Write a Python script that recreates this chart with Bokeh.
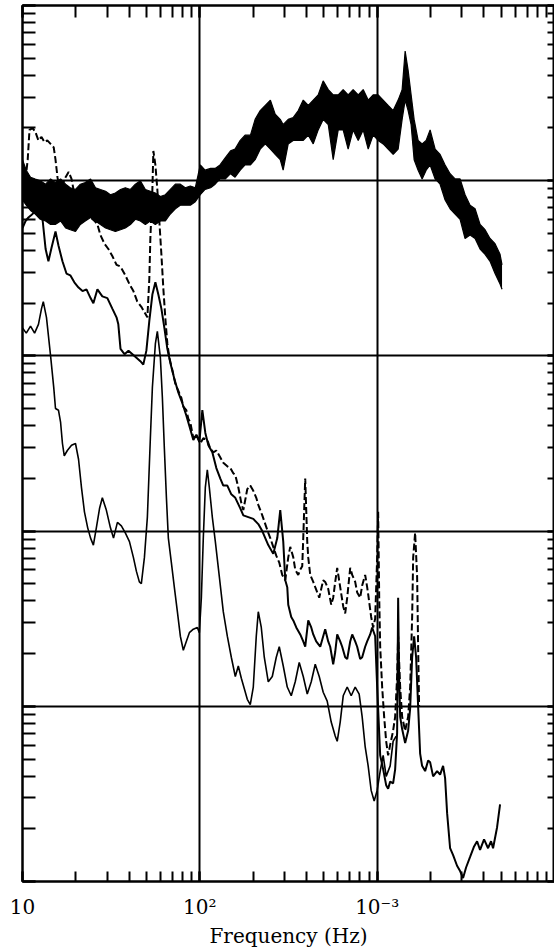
from bokeh.plotting import figure
from bokeh.models import LogAxis, LogTicker
from bokeh.embed import file_html
from bokeh.resources import INLINE

# Spectral levels in dB (0 dB = top of the plotted range) against frequency in Hz.

# Trace A: broadband record, drawn as its noise envelope (upper / lower excursions)
a_freq = [10, 10.5, 11.1, 11.8, 12.6, 13.5, 14.4, 15.3, 16.4, 17.5,
          18.6, 19.9, 21.2, 22.6, 24.2, 25.8, 27.5, 29.4, 31.3, 33.4,
          35.7, 38.0, 40.6, 43.3, 46.2, 49.3, 52.6, 56.1, 59.9, 63.9,
          68.2, 72.8, 77.6, 82.8, 88.4, 94.3, 100.6, 107, 115, 122,
          130, 139, 149, 158, 169, 180, 193, 205, 219, 234,
          250, 266, 284, 295, 315, 336, 359, 383, 409, 436,
          465, 496, 530, 565, 603, 643, 686, 732, 782, 834,
          890, 949, 1013, 1081, 1153, 1231, 1313, 1383, 1438, 1495,
          1554, 1616, 1702, 1793, 1889, 1989, 2123, 2264, 2416, 2578,
          2750, 2935, 3131, 3341, 3565, 3804, 4059, 4331, 4621, 4931, 5060]
a_upper_db = [-8.8, -9.4, -9.8, -9.9, -10.0, -10.2, -9.9, -10.1, -9.9, -10.2,
              -10.4, -10.5, -10.2, -10.1, -9.9, -10.4, -10.5, -10.6, -10.8, -10.7,
              -10.5, -10.4, -10.5, -10.2, -10.0, -10.5, -10.6, -10.7, -10.9, -10.8,
              -10.5, -10.2, -10.2, -10.4, -10.3, -10.4, -9.1, -9.4, -9.3, -9.3,
              -9.1, -8.7, -8.3, -8.2, -7.7, -7.4, -7.4, -6.5, -6.0, -5.7,
              -5.4, -6.2, -6.5, -6.8, -6.5, -6.4, -6.0, -5.4, -5.7, -5.4,
              -5.1, -4.3, -4.8, -5.1, -5.1, -4.8, -5.1, -4.8, -5.1, -4.8,
              -5.4, -5.1, -5.1, -5.4, -5.7, -6.0, -5.4, -4.8, -2.6, -3.7,
              -5.1, -6.5, -7.7, -7.9, -7.7, -7.1, -8.2, -8.5, -9.1, -9.6,
              -9.9, -9.9, -10.8, -11.4, -11.6, -12.5, -12.8, -13.3, -13.6, -14.2, -14.8]
a_lower_db = [-11.1, -11.4, -11.7, -11.9, -12.2, -12.3, -12.5, -12.5, -12.3, -12.7,
              -12.8, -12.9, -12.5, -12.3, -12.1, -12.3, -12.5, -12.7, -12.8, -12.9,
              -12.8, -12.7, -12.5, -12.2, -12.3, -12.5, -12.3, -12.5, -12.3, -12.3,
              -11.9, -11.6, -11.4, -11.4, -11.4, -11.2, -10.8, -10.5, -10.4, -10.2,
              -9.9, -9.9, -9.6, -9.8, -9.4, -9.1, -9.1, -8.8, -8.2, -7.9,
              -8.2, -8.5, -8.8, -9.4, -7.9, -7.7, -7.7, -7.7, -7.4, -7.9,
              -7.1, -6.5, -6.8, -8.8, -7.1, -7.1, -8.2, -7.1, -7.7, -7.1,
              -8.2, -7.4, -7.7, -7.9, -8.2, -8.5, -8.2, -6.5, -5.4, -6.0,
              -6.8, -8.8, -9.4, -9.9, -9.4, -9.1, -9.9, -10.2, -11.1, -11.6,
              -11.9, -12.2, -13.3, -13.1, -13.3, -13.9, -14.2, -14.6, -15.3, -15.9, -16.2]

# Trace B (dashed)
b_freq = [10.1, 10.7, 10.95, 11.4, 11.8, 12.3, 12.8, 13.3, 13.8, 14.4,
          15.0, 15.35, 15.75, 16.2, 16.8, 17.5, 18.2, 18.9, 19.9, 21.2,
          22.6, 24.2, 25.5, 26.45, 27.5, 29.0, 30.5, 32.1, 33.9, 35.7,
          38.0, 40.1, 42.2, 44.4, 46.8, 48.7, 50.6, 51.9, 52.6, 54.0,
          54.7, 56.15, 57.6, 59.1, 60.7, 62.3, 63.95, 65.6, 67.3, 70.0,
          72.8, 75.7, 78.7, 80.7, 83.9, 86.2, 88.4, 91.9, 95.6, 100.6,
          104.6, 110.2, 114.6, 119.1, 123.9, 130.5, 135.6, 142.9, 148.5, 154.4,
          158.5, 164.8, 171.4, 175.9, 185.2, 192.5, 200.2, 208.1, 213.6, 225.0,
          233.9, 243.2, 249.6, 259.5, 269.8, 280.5, 291.6, 303.2, 315.2, 323.5,
          336.5, 345.1, 358.8, 368.3, 378, 383, 392.9, 403.4, 408.6, 419.4,
          436.1, 447.5, 471.3, 496.3, 509.3, 529.6, 550.6, 565, 580, 595.2,
          618.8, 643.5, 660.1, 677.7, 704.6, 723.2, 751.7, 771.4, 802, 823.1,
          855.6, 878.1, 889.6, 924.9, 949.5, 974.3, 1000, 1013, 1027, 1040,
          1067, 1095, 1124, 1153, 1184, 1230, 1263, 1296, 1313, 1348,
          1383, 1438, 1495, 1535, 1575, 1596, 1637, 1680, 1702, 1724]
b_db = [-11.1, -8.8, -7.1, -7.0, -7.2, -7.7, -7.5, -7.8, -7.7, -7.9,
        -8.1, -8.8, -9.8, -10.6, -10.2, -9.8, -9.5, -9.9, -11.1, -11.4,
        -11.7, -12.1, -12.3, -12.5, -13.1, -13.6, -13.9, -14.3, -14.8, -14.9,
        -15.4, -15.9, -16.3, -16.9, -17.2, -17.5, -17.8, -15.6, -13.3, -10.5,
        -8.3, -9.1, -10.5, -12.3, -14.2, -16.2, -17.9, -19.3, -20.1, -20.8,
        -21.6, -22.0, -22.4, -22.9, -23.1, -23.6, -23.8, -24.7, -24.5, -25.0,
        -24.7, -24.8, -25.3, -25.5, -25.4, -25.8, -26.1, -26.3, -26.4, -26.7,
        -26.8, -27.5, -28.4, -28.8, -27.6, -27.4, -27.7, -28.1, -28.5, -29.1,
        -29.6, -30.1, -30.4, -30.9, -31.4, -31.8, -32.5, -32.8, -31.5, -30.9,
        -31.5, -32.2, -32.5, -32.2, -32.0, -30.4, -27.0, -30.6, -31.5, -32.5,
        -32.9, -33.2, -33.8, -32.8, -32.9, -33.3, -34.2, -33.8, -32.9, -32.1,
        -33.2, -34.3, -34.7, -33.8, -32.1, -32.5, -32.9, -33.5, -33.8, -33.1,
        -32.5, -33.2, -33.6, -34.9, -35.5, -35.0, -31.5, -28.9, -33.8, -36.6,
        -38.9, -40.6, -42.0, -42.8, -42.2, -41.4, -40.6, -38.3, -36.0, -38.9,
        -40.6, -41.4, -40.6, -38.9, -34.9, -31.5, -30.1, -32.6, -36.6, -40.0]

# Trace C (thin solid)
c_freq = [10.0, 10.4, 10.8, 11.4, 12.0, 12.5, 13.0, 13.5, 14.0, 14.6,
          15.35, 15.95, 16.8, 17.7, 18.6, 19.6, 20.7, 21.8, 22.95, 24.2,
          25.1, 26.45, 28.2, 30.1, 32.1, 33.9, 34.7, 35.7, 37.6, 39.6,
          41.7, 43.9, 46.2, 48.0, 49.95, 51.9, 54.0, 56.15, 58.35, 60.7,
          63.1, 65.6, 68.2, 71.8, 75.7, 79.7, 83.9, 87.3, 91.9, 95.6,
          99.4, 103.3, 107.4, 111.7, 117.6, 123.9, 130.5, 135.6, 142.9, 150.5,
          158.5, 169.1, 175.9, 187.7, 200.2, 213.6, 225.0, 233.9, 243.2, 259.5,
          273.3, 284.1, 295.4, 303.2, 311.2, 315.2, 327.7, 336.5, 349.8, 368.3,
          383, 392.9, 408.6, 424.9, 436.1, 453.2, 477.5, 496.3, 509.3, 529.6,
          543.5, 565, 580, 595.2, 618.8, 635, 660.1, 677.7, 704.6, 723.2,
          751.7, 771.4, 802, 823.1, 855.6, 878.1, 913.3, 937, 974.3, 1000,
          1040, 1081, 1124, 1153, 1184, 1230, 1263, 1296, 1313, 1330,
          1348, 1383, 1438, 1495, 1535, 1575, 1616, 1658, 1702, 1747,
          1792, 1864, 1938, 1990, 2068, 2178, 2264, 2354, 2416, 2480,
          2578, 2681, 2822, 2935, 3051, 3172, 3342, 3520, 3660, 3804,
          4007, 4221, 4388, 4503, 4745, 4932]
c_db = [-12.7, -12.3, -12.1, -11.9, -11.6, -11.5, -12.3, -13.9, -14.6, -13.8,
        -12.9, -13.7, -14.6, -15.3, -15.4, -15.8, -16.1, -16.3, -16.2, -16.7,
        -17.0, -16.2, -16.6, -16.7, -17.3, -17.8, -18.2, -19.6, -19.9, -19.7,
        -19.9, -20.1, -20.3, -20.5, -19.7, -18.0, -16.5, -15.8, -16.5, -17.3,
        -18.4, -19.6, -20.4, -21.3, -22.1, -22.7, -23.4, -24.0, -24.8, -24.5,
        -24.9, -23.1, -24.4, -25.1, -25.5, -26.4, -27.0, -27.4, -27.4, -27.9,
        -28.1, -28.7, -29.1, -29.2, -29.3, -29.6, -30.0, -30.4, -30.8, -31.3,
        -30.4, -28.8, -30.6, -32.8, -33.2, -34.2, -34.9, -35.1, -35.5, -35.9,
        -36.3, -36.6, -35.1, -35.5, -35.9, -36.3, -36.6, -36.0, -35.6, -36.3,
        -36.6, -37.6, -36.9, -35.9, -36.3, -36.6, -37.2, -37.3, -36.3, -35.9,
        -36.3, -36.6, -37.3, -37.2, -36.6, -36.3, -35.9, -35.5, -36.0, -38.9,
        -42.8, -43.6, -44.5, -44.7, -44.3, -44.4, -43.6, -41.5, -33.8, -38.3,
        -40.6, -41.3, -42.1, -41.4, -40.1, -37.2, -36.0, -37.2, -40.0, -42.7,
        -43.4, -43.7, -43.1, -43.2, -44.0, -43.7, -43.9, -43.4, -44.1, -46.1,
        -48.1, -48.5, -49.1, -49.4, -49.8, -49.2, -48.6, -48.0, -47.7, -48.2,
        -47.6, -48.1, -47.7, -48.1, -46.9, -45.6]

# Trace D (lowest, thin)
d_freq = [10.0, 10.5, 11.1, 11.7, 12.3, 12.8, 13.1, 13.65, 14.4, 15.0,
          15.35, 15.95, 16.4, 16.8, 17.2, 17.9, 18.9, 19.9, 20.7, 21.5,
          22.35, 23.3, 24.2, 25.1, 26.1, 27.2, 28.2, 29.7, 31.3, 32.6,
          34.3, 36.1, 38.0, 40.1, 42.2, 43.9, 45.6, 46.8, 48.7, 50.6,
          52.6, 54.0, 56.15, 57.6, 59.9, 61.5, 63.1, 64.8, 66.45, 69.1,
          71.8, 74.7, 77.65, 80.7, 83.9, 87.3, 91.9, 96.8, 99.4, 102,
          104.6, 107.4, 110.2, 113.1, 117.6, 122.3, 128.8, 135.6, 142.9, 150.5,
          158.5, 164.8, 171.4, 178.2, 185.2, 192.5, 200.2, 208.1, 213.6, 222.1,
          230.9, 243.2, 256.2, 269.8, 280.5, 295.4, 311.2, 327.7, 345.1, 363.5,
          383, 403.4, 424.9, 447.5, 471.3, 496.3, 522.7, 550.6, 580, 595.2,
          618.8, 643.5, 677.7, 713.8, 751.7, 791.6, 823.1, 855.6, 889.6, 924.9,
          961.8, 1000, 1040, 1081, 1124, 1184, 1230, 1280]
d_db = [-18.4, -18.7, -18.3, -18.7, -18.2, -17.3, -16.9, -17.8, -20.0, -21.8,
        -23.0, -23.1, -23.8, -25.0, -25.7, -25.4, -25.1, -25.0, -25.9, -27.5,
        -28.9, -29.8, -30.4, -30.8, -29.8, -28.7, -28.1, -28.8, -29.8, -30.4,
        -29.5, -29.7, -30.1, -30.6, -31.5, -32.3, -32.9, -33.0, -31.5, -29.2,
        -24.7, -21.8, -19.3, -18.6, -20.1, -22.4, -25.3, -28.1, -30.4, -31.8,
        -33.2, -34.6, -36.0, -36.8, -36.3, -35.8, -35.6, -35.5, -35.8, -33.8,
        -30.4, -27.5, -26.5, -27.5, -29.2, -30.6, -32.6, -34.6, -36.0, -37.2,
        -38.3, -37.7, -38.4, -39.0, -39.6, -39.9, -38.9, -36.0, -34.6, -35.5,
        -37.2, -38.6, -38.3, -37.2, -36.6, -37.7, -38.9, -39.4, -38.6, -37.5,
        -38.3, -39.3, -38.6, -37.6, -38.3, -39.2, -39.7, -40.9, -41.7, -42.0,
        -40.9, -39.4, -38.9, -39.4, -38.9, -39.3, -40.6, -42.3, -43.4, -44.8,
        -45.4, -44.8, -43.7, -42.8, -44.0, -43.4, -42.0, -41.7]

x_tick_labels = {10: "10", 100: "10\u00b2", 1000: "10\u207b\u00b3", 10000: " "}
x_title = "Frequency (Hz)"


def power(levels_db):
    return [10 ** (v / 10.0) for v in levels_db]


SERIF = "DejaVu Serif"


def tick_style(axis, length):
    axis.axis_line_width = 2
    axis.axis_line_color = "black"
    axis.major_tick_in, axis.major_tick_out = length, 0
    axis.minor_tick_in, axis.minor_tick_out = length, 0
    axis.major_tick_line_width = 2
    axis.minor_tick_line_width = 2
    axis.major_tick_line_color = "black"
    axis.minor_tick_line_color = "black"


def hide_labels(axis):
    axis.major_label_text_font_size = "1px"
    axis.major_label_text_alpha = 0
    axis.major_label_standoff = 0


p = figure(width=554, height=950, x_axis_type="log", y_axis_type="log",
           x_range=(10, 1e4), y_range=(1e-5, 1),
           output_backend="svg", toolbar_location=None,
           min_border_left=22, min_border_right=0,
           min_border_top=5, min_border_bottom=64)
p.outline_line_color = "black"
p.outline_line_width = 2
p.background_fill_color = "white"
p.border_fill_color = "white"

for g in (p.xgrid[0], p.ygrid[0]):
    g.grid_line_color = "black"
    g.grid_line_width = 2

xa = p.xaxis[0]
xa.ticker = LogTicker(num_minor_ticks=10)
tick_style(xa, 10)
xa.major_label_overrides = x_tick_labels
xa.major_label_text_font = SERIF
xa.major_label_text_font_size = "20px"
xa.major_label_text_color = "black"
xa.major_label_standoff = 13
xa.axis_label = x_title
xa.axis_label_text_font = SERIF
xa.axis_label_text_font_size = "20px"
xa.axis_label_text_font_style = "normal"
xa.axis_label_text_color = "black"
xa.axis_label_standoff = 2

ya = p.yaxis[0]
ya.ticker = LogTicker(num_minor_ticks=10)
tick_style(ya, 13)
hide_labels(ya)

top = LogAxis(ticker=LogTicker(num_minor_ticks=10))
tick_style(top, 12)
hide_labels(top)
p.add_layout(top, "above")

right = LogAxis(ticker=LogTicker(num_minor_ticks=10))
tick_style(right, 7)
hide_labels(right)
p.add_layout(right, "right")

# Trace A as a filled noise band
p.varea(x=a_freq, y1=power(a_lower_db), y2=power(a_upper_db), fill_color="black")
p.line(a_freq, power(a_upper_db), line_color="black", line_width=1.2)
p.line(a_freq, power(a_lower_db), line_color="black", line_width=1.2)

p.line(b_freq, power(b_db), line_color="black", line_width=2, line_dash="7 3")
p.line(c_freq, power(c_db), line_color="black", line_width=2)
p.line(d_freq, power(d_db), line_color="black", line_width=1.6)

open("out.html", "w").write(file_html(p, INLINE))
